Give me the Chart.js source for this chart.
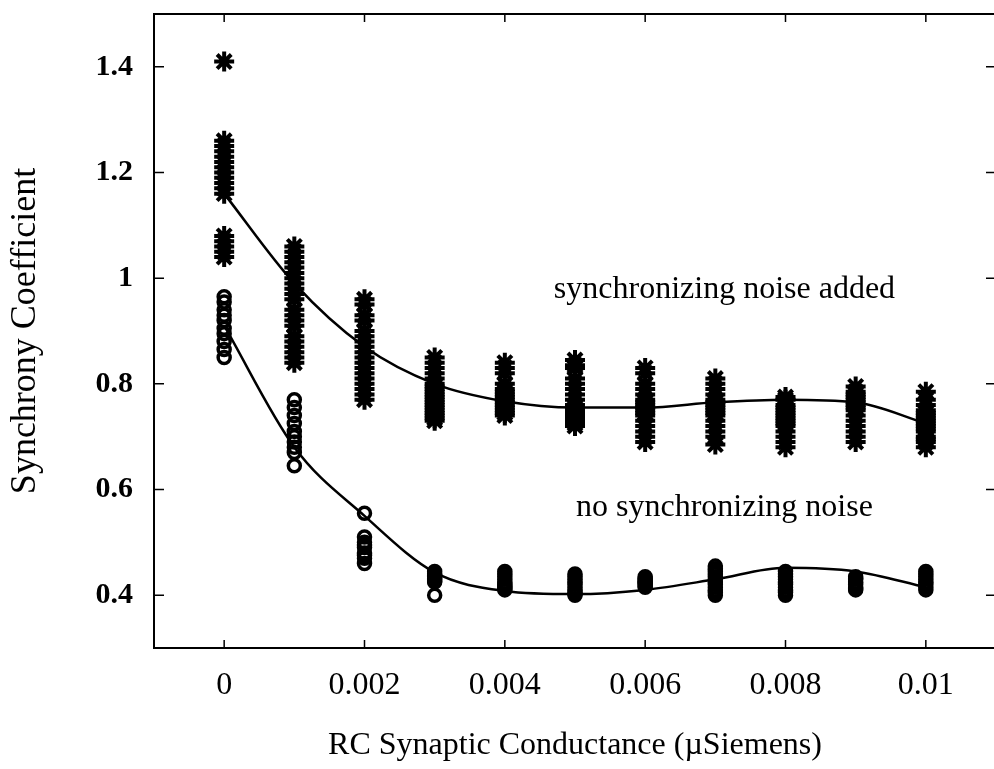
<!DOCTYPE html>
<html>
<head>
<meta charset="utf-8">
<script src="https://cdn.jsdelivr.net/npm/chart.js@4.4.1/dist/chart.umd.min.js"></script>
<style>
  html, body { margin: 0; padding: 0; background: #fff; overflow: hidden; }
  #wrap { width: 1010px; height: 769px; position: relative; }
</style>
</head>
<body>
<div id="wrap"><canvas id="syncChart"></canvas></div>
<script>
// conductance values (x), one column of trials per value
const conductance = [0, 0.001, 0.002, 0.003, 0.004, 0.005, 0.006, 0.007, 0.008, 0.009, 0.01];

// synchronizing noise added (stars)
const noiseTrials = [
  [1.41, 1.26, 1.25, 1.24, 1.23, 1.22, 1.21, 1.20, 1.19, 1.18, 1.17, 1.16, 1.08, 1.07, 1.06, 1.05, 1.04],
  [1.06, 1.05, 1.04, 1.03, 1.02, 1.01, 1.00, 0.99, 0.98, 0.97, 0.96, 0.94, 0.93, 0.92, 0.91, 0.89, 0.88, 0.87, 0.86, 0.85, 0.84],
  [0.96, 0.95, 0.93, 0.92, 0.90, 0.89, 0.88, 0.87, 0.86, 0.85, 0.84, 0.83, 0.82, 0.81, 0.80, 0.79, 0.78, 0.77],
  [0.85, 0.84, 0.83, 0.82, 0.81, 0.80, 0.795, 0.79, 0.785, 0.78, 0.775, 0.77, 0.765, 0.76, 0.755, 0.75, 0.745, 0.74, 0.735, 0.73],
  [0.84, 0.83, 0.82, 0.80, 0.79, 0.785, 0.78, 0.775, 0.77, 0.765, 0.76, 0.755, 0.75, 0.745, 0.74],
  [0.845, 0.835, 0.83, 0.81, 0.80, 0.79, 0.78, 0.77, 0.76, 0.755, 0.75, 0.745, 0.74, 0.735, 0.73, 0.725, 0.72],
  [0.83, 0.82, 0.80, 0.79, 0.78, 0.77, 0.765, 0.76, 0.755, 0.75, 0.745, 0.74, 0.73, 0.72, 0.71, 0.70, 0.69],
  [0.81, 0.80, 0.79, 0.78, 0.77, 0.765, 0.76, 0.755, 0.75, 0.745, 0.74, 0.73, 0.72, 0.71, 0.70, 0.685],
  [0.775, 0.77, 0.76, 0.755, 0.75, 0.745, 0.74, 0.735, 0.73, 0.725, 0.72, 0.71, 0.70, 0.69, 0.68],
  [0.795, 0.785, 0.78, 0.775, 0.77, 0.765, 0.76, 0.755, 0.75, 0.74, 0.73, 0.72, 0.71, 0.70, 0.69],
  [0.785, 0.77, 0.76, 0.75, 0.745, 0.74, 0.735, 0.73, 0.725, 0.72, 0.715, 0.71, 0.70, 0.695, 0.69, 0.68]
];

// no synchronizing noise (circles)
const noNoiseTrials = [
  [0.965, 0.955, 0.94, 0.93, 0.92, 0.905, 0.895, 0.88, 0.865, 0.85],
  [0.77, 0.755, 0.74, 0.725, 0.71, 0.70, 0.69, 0.68, 0.67, 0.645],
  [0.555, 0.51, 0.50, 0.495, 0.49, 0.48, 0.475, 0.47, 0.46],
  [0.445, 0.44, 0.437, 0.435, 0.432, 0.43, 0.427, 0.425, 0.40],
  [0.445, 0.44, 0.435, 0.43, 0.425, 0.42, 0.418, 0.415, 0.412, 0.41],
  [0.44, 0.435, 0.43, 0.425, 0.42, 0.415, 0.41, 0.405, 0.402, 0.40],
  [0.435, 0.432, 0.43, 0.427, 0.425, 0.422, 0.42, 0.417, 0.415],
  [0.455, 0.45, 0.445, 0.44, 0.435, 0.43, 0.425, 0.42, 0.415, 0.41, 0.405, 0.40],
  [0.445, 0.44, 0.435, 0.43, 0.425, 0.42, 0.415, 0.41, 0.405, 0.40],
  [0.435, 0.432, 0.43, 0.425, 0.42, 0.415, 0.412, 0.41],
  [0.445, 0.44, 0.435, 0.43, 0.425, 0.42, 0.415, 0.41]
];

// fitted curves
const noiseFit = [1.16, 0.99, 0.87, 0.80, 0.767, 0.755, 0.755, 0.765, 0.77, 0.765, 0.725];
const noNoiseFit = [0.91, 0.68, 0.55, 0.443, 0.408, 0.402, 0.41, 0.43, 0.452, 0.445, 0.415];

const xTickValues = [0, 0.002, 0.004, 0.006, 0.008, 0.01];
const xTickLabels = ['0', '0.002', '0.004', '0.006', '0.008', '0.01'];
const yTickValues = [0.4, 0.6, 0.8, 1.0, 1.2, 1.4];
const yTickLabels = ['0.4', '0.6', '0.8', '1', '1.2', '1.4'];

const toPoints = (trials) => {
  const pts = [];
  trials.forEach((col, i) => {
    col.forEach(v => pts.push({ x: conductance[i], y: v }));
  });
  return pts;
};
const toLine = (fit) => fit.map((v, i) => ({ x: conductance[i], y: v }));

const serif = "'Liberation Serif', 'DejaVu Serif', serif";

// frame, inward ticks on all four sides, and the two curve labels
const framePlugin = {
  id: 'frame',
  afterDraw(chart) {
    const { ctx, chartArea: a, scales } = chart;
    ctx.save();
    ctx.strokeStyle = '#000';
    ctx.lineWidth = 2;
    ctx.strokeRect(a.left, a.top, a.right - a.left, a.bottom - a.top);

    ctx.lineWidth = 1.5;
    ctx.beginPath();
    for (const v of xTickValues) {
      const px = scales.x.getPixelForValue(v);
      ctx.moveTo(px, a.bottom); ctx.lineTo(px, a.bottom - 8);
      ctx.moveTo(px, a.top); ctx.lineTo(px, a.top + 8);
    }
    for (const v of yTickValues) {
      const py = scales.y.getPixelForValue(v);
      ctx.moveTo(a.left, py); ctx.lineTo(a.left + 10, py);
      ctx.moveTo(a.right, py); ctx.lineTo(a.right - 10, py);
    }
    ctx.stroke();

    ctx.fillStyle = '#000';
    ctx.font = `32px ${serif}`;
    ctx.textAlign = 'center';
    ctx.textBaseline = 'middle';
    ctx.fillText('synchronizing noise added', scales.x.getPixelForValue(0.00713), scales.y.getPixelForValue(0.978));
    ctx.fillText('no synchronizing noise', scales.x.getPixelForValue(0.00713), scales.y.getPixelForValue(0.566));
    ctx.restore();
  }
};

const config = {
  type: 'scatter',
  data: {
    datasets: [
      {
        label: 'synchronizing noise added',
        data: toPoints(noiseTrials),
        pointStyle: 'star',
        pointRadius: 10,
        borderColor: '#000',
        backgroundColor: '#000',
        borderWidth: 4
      },
      {
        label: 'no synchronizing noise',
        data: toPoints(noNoiseTrials),
        pointStyle: 'circle',
        pointRadius: 6,
        borderColor: '#000',
        backgroundColor: 'rgba(0,0,0,0)',
        borderWidth: 3.5
      },
      {
        label: 'fit noise',
        type: 'line',
        data: toLine(noiseFit),
        showLine: true,
        pointRadius: 0,
        borderColor: '#000',
        borderWidth: 2.5,
        cubicInterpolationMode: 'monotone',
        fill: false
      },
      {
        label: 'fit no noise',
        type: 'line',
        data: toLine(noNoiseFit),
        showLine: true,
        pointRadius: 0,
        borderColor: '#000',
        borderWidth: 2.5,
        cubicInterpolationMode: 'monotone',
        fill: false
      }
    ]
  },
  options: {
    responsive: true,
    maintainAspectRatio: false,
    animation: false,
    layout: { padding: { top: 12, right: 9, left: 0, bottom: 0 } },
    plugins: {
      legend: { display: false },
      tooltip: { enabled: false }
    },
    scales: {
      x: {
        type: 'linear',
        min: -0.001,
        max: 0.011,
        grid: { display: false, drawTicks: false },
        border: { display: false },
        afterBuildTicks: (scale) => { scale.ticks = xTickValues.map(v => ({ value: v })); },
        afterFit: (scale) => { scale.height = 121; scale.paddingLeft = 0; scale.paddingRight = 0; },
        ticks: {
          padding: 18,
          color: '#000',
          font: { family: serif, size: 32 },
          callback: (value, index) => xTickLabels[index]
        },
        title: {
          display: true,
          text: 'RC Synaptic Conductance (\u00b5Siemens)',
          color: '#000',
          font: { family: serif, size: 32 },
          padding: { top: 16 }
        }
      },
      y: {
        type: 'linear',
        min: 0.3,
        max: 1.5,
        grid: { display: false, drawTicks: false },
        border: { display: false },
        afterBuildTicks: (scale) => { scale.ticks = yTickValues.map(v => ({ value: v })); },
        afterFit: (scale) => { scale.width = 154; scale.paddingTop = 0; scale.paddingBottom = 0; },
        ticks: {
          padding: 21,
          color: '#000',
          font: { family: serif, size: 30, weight: 'bold' },
          callback: (value, index) => yTickLabels[index]
        },
        title: {
          display: true,
          text: 'Synchrony Coefficient',
          color: '#000',
          font: { family: serif, size: 36 },
          padding: { top: 4, bottom: 0 }
        }
      }
    }
  },
  plugins: [framePlugin]
};

new Chart(document.getElementById('syncChart'), config);
</script>
</body>
</html>
